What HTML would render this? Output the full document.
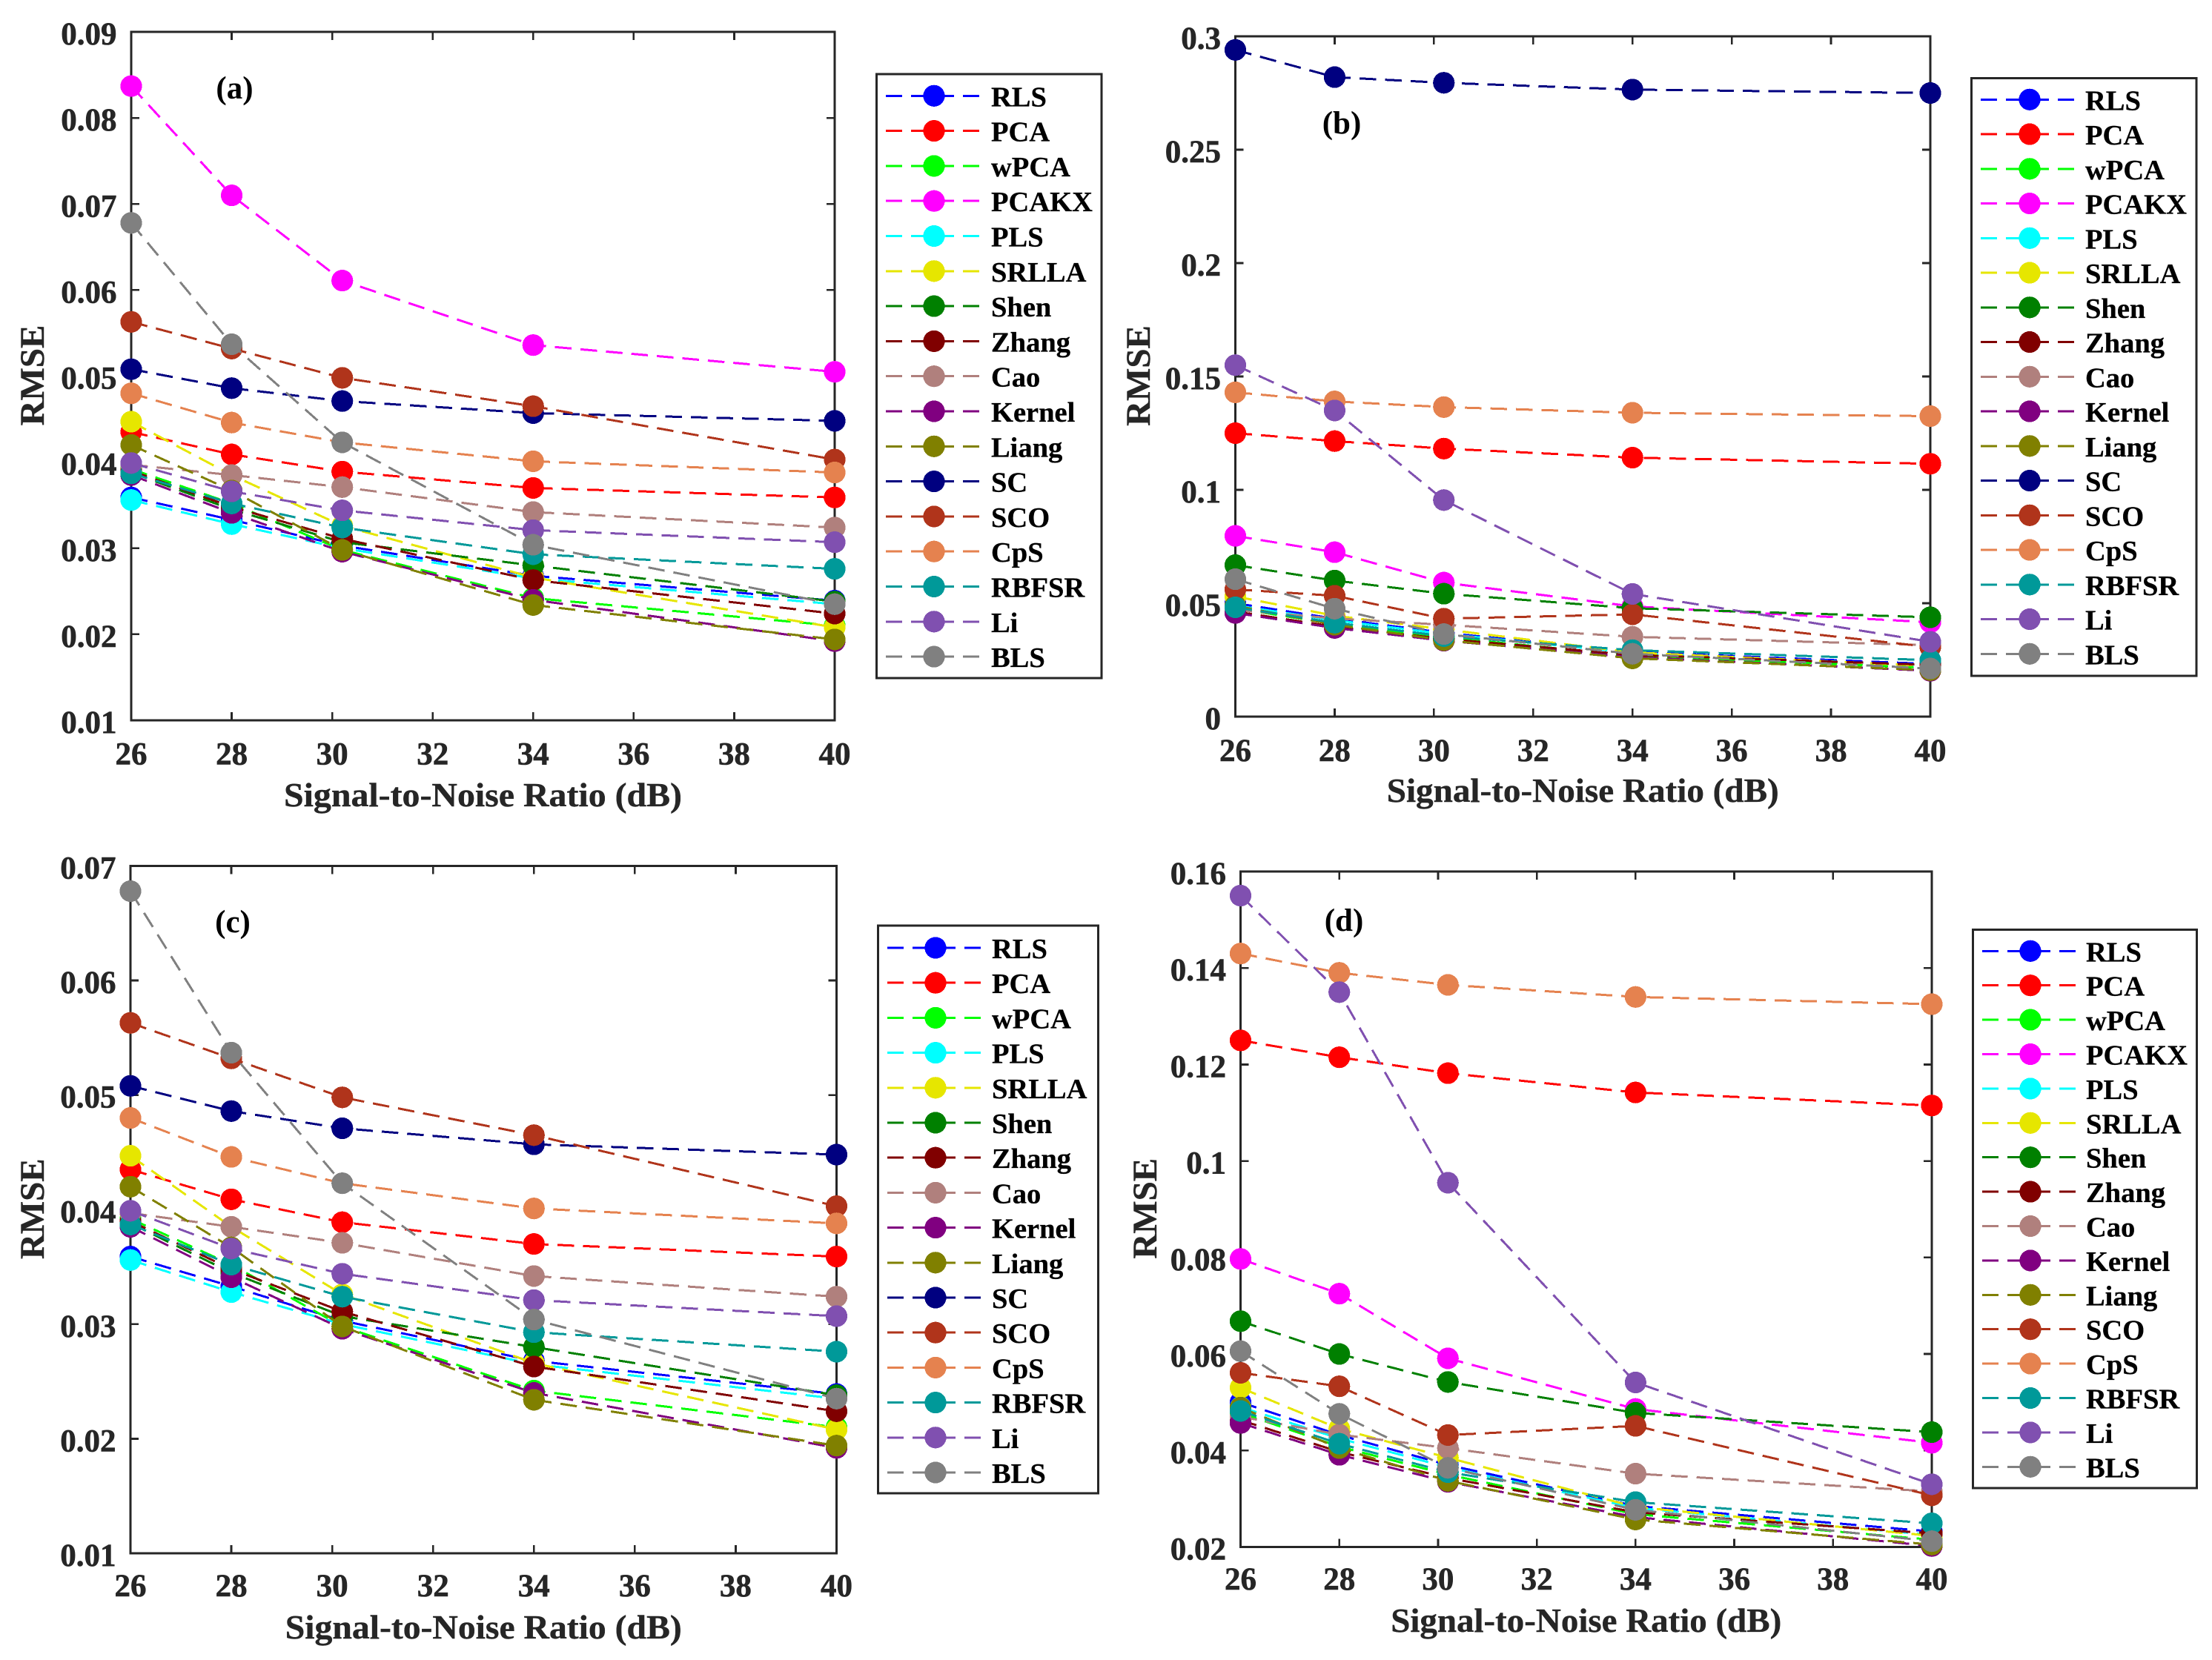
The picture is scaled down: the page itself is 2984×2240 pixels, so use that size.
<!DOCTYPE html>
<html lang="en">
<head>
<meta charset="utf-8">
<title>RMSE versus Signal-to-Noise Ratio</title>
<style>
html,body{margin:0;padding:0;background:#fff;}
body{width:2984px;height:2240px;overflow:hidden;}
svg{display:block;}
text{font-family:"Liberation Serif","DejaVu Serif",serif;font-weight:bold;}
</style>
</head>
<body>
<svg id="figure" xmlns="http://www.w3.org/2000/svg" width="2984" height="2240" viewBox="0 0 2984 2240" shape-rendering="crispEdges"></svg>
<script>
// ---------- shared categories and tick labels ----------
const snrValues = [26, 28, 30.2, 34, 40];
const xTickValues = [26, 28, 30, 32, 34, 36, 38, 40];
const xTickLabels = ["26", "28", "30", "32", "34", "36", "38", "40"];

const yTicksA = [0.01, 0.02, 0.03, 0.04, 0.05, 0.06, 0.07, 0.08, 0.09];
const yLabelsA = ["0.01", "0.02", "0.03", "0.04", "0.05", "0.06", "0.07", "0.08", "0.09"];
const yTicksB = [0, 0.05, 0.1, 0.15, 0.2, 0.25, 0.3];
const yLabelsB = ["0", "0.05", "0.1", "0.15", "0.2", "0.25", "0.3"];
const yTicksC = [0.01, 0.02, 0.03, 0.04, 0.05, 0.06, 0.07];
const yLabelsC = ["0.01", "0.02", "0.03", "0.04", "0.05", "0.06", "0.07"];
const yTicksD = [0.02, 0.04, 0.06, 0.08, 0.1, 0.12, 0.14, 0.16];
const yLabelsD = ["0.02", "0.04", "0.06", "0.08", "0.1", "0.12", "0.14", "0.16"];

// ---------- series values: panels (a) and (c) ----------
const rlsAC    = [0.0359, 0.0333, 0.0303, 0.0268, 0.0239];
const pcaAC    = [0.0435, 0.0409, 0.0389, 0.0370, 0.0359];
const wpcaAC   = [0.0392, 0.0352, 0.0298, 0.0242, 0.0210];
const pcakxAC  = [0.0837, 0.0710, 0.0611, 0.0536, 0.0505];
const plsAC    = [0.0356, 0.0328, 0.0300, 0.0265, 0.0235];
const srllaAC  = [0.0447, 0.0385, 0.0326, 0.0266, 0.0208];
const shenAC   = [0.0388, 0.0345, 0.0307, 0.0280, 0.0238];
const zhangAC  = [0.0390, 0.0348, 0.0311, 0.0263, 0.0224];
const caoAC    = [0.0397, 0.0385, 0.0371, 0.0342, 0.0324];
const kernelAC = [0.0385, 0.0341, 0.0296, 0.0240, 0.0192];
const liangAC  = [0.0420, 0.0367, 0.0298, 0.0234, 0.0194];
const scAC     = [0.0508, 0.0486, 0.0471, 0.0457, 0.0448];
const scoAC    = [0.0563, 0.0532, 0.0498, 0.0465, 0.0403];
const cpsAC    = [0.0480, 0.0446, 0.0423, 0.0401, 0.0388];
const rbfsrAC  = [0.0387, 0.0352, 0.0324, 0.0293, 0.0276];
const liAC     = [0.0399, 0.0366, 0.0344, 0.0321, 0.0307];
const blsAC    = [0.0678, 0.0537, 0.0423, 0.0304, 0.0235];

// ---------- series values: panels (b) and (d) ----------
const rlsBD    = [0.0500, 0.0432, 0.0370, 0.0285, 0.0232];
const pcaBD    = [0.1250, 0.1215, 0.1182, 0.1142, 0.1115];
const wpcaBD   = [0.0478, 0.0408, 0.0350, 0.0268, 0.0215];
const pcakxBD  = [0.0797, 0.0725, 0.0591, 0.0486, 0.0416];
const plsBD    = [0.0490, 0.0425, 0.0365, 0.0281, 0.0225];
const srllaBD  = [0.0530, 0.0445, 0.0385, 0.0283, 0.0223];
const shenBD   = [0.0668, 0.0600, 0.0542, 0.0478, 0.0438];
const zhangBD  = [0.0463, 0.0397, 0.0343, 0.0272, 0.0228];
const caoBD    = [0.0470, 0.0433, 0.0405, 0.0352, 0.0315];
const kernelBD = [0.0457, 0.0391, 0.0335, 0.0262, 0.0202];
const liangBD  = [0.0489, 0.0405, 0.0337, 0.0257, 0.0205];
const scBD     = [0.2940, 0.2820, 0.2795, 0.2765, 0.2750];
const scoBD    = [0.0561, 0.0533, 0.0432, 0.0451, 0.0307];
const cpsBD    = [0.1430, 0.1390, 0.1365, 0.1340, 0.1325];
const rbfsrBD  = [0.0482, 0.0414, 0.0355, 0.0293, 0.0249];
const liBD     = [0.1550, 0.1350, 0.0955, 0.0541, 0.0330];
const blsBD    = [0.0606, 0.0476, 0.0364, 0.0277, 0.0212];

// ---------- series names and colours ----------
const methodNames = ["RLS","PCA","wPCA","PCAKX","PLS","SRLLA","Shen","Zhang","Cao","Kernel","Liang","SC","SCO","CpS","RBFSR","Li","BLS"];
const methodColors = ["#0000ff","#ff0000","#00ff00","#ff00ff","#00ffff","#e6e600","#008000","#800000","#b0807d","#800080","#808000","#000080","#b0341b","#e5824f","#009999","#8050b0","#808080"];
const seriesAC = [rlsAC,pcaAC,wpcaAC,pcakxAC,plsAC,srllaAC,shenAC,zhangAC,caoAC,kernelAC,liangAC,scAC,scoAC,cpsAC,rbfsrAC,liAC,blsAC];
const seriesBD = [rlsBD,pcaBD,wpcaBD,pcakxBD,plsBD,srllaBD,shenBD,zhangBD,caoBD,kernelBD,liangBD,scBD,scoBD,cpsBD,rbfsrBD,liBD,blsBD];

// ---------- layout ----------
const AXIS_COLOR = "#262626";
const NS = "http://www.w3.org/2000/svg";
const figure = document.getElementById("figure");

const panels = [
  { id:"a", left:177, right:1126, top:43, bottom:972, vMin:0.01, vMax:0.09,
    yTicks:yTicksA, yLabels:yLabelsA, series:seriesAC, hide:[],
    letterX:316.5, letterY:133, rmseX:59, titleLen:537, titleDy:116, xLabelDy:59.5,
    legend:{left:1182.5,right:1486,top:100,bottom:915,row0:129.3,step:47.3,lineX:1195,markX:1260,textX:1337} },
  { id:"b", left:1666.5, right:2604, top:49, bottom:967, vMin:0, vMax:0.3,
    yTicks:yTicksB, yLabels:yLabelsB, series:seriesBD, hide:[],
    letterX:1810, letterY:180, rmseX:1551, titleLen:529, titleDy:115, xLabelDy:60,
    legend:{left:2659.5,right:2963,top:105.5,bottom:912,row0:134.3,step:46.75,lineX:2672,markX:2738,textX:2813} },
  { id:"c", left:176, right:1128.5, top:1168.5, bottom:2096, vMin:0.01, vMax:0.07,
    yTicks:yTicksC, yLabels:yLabelsC, series:seriesAC, hide:["PCAKX"],
    letterX:314, letterY:1258, rmseX:59, titleLen:535, titleDy:115, xLabelDy:58,
    legend:{left:1184.5,right:1481.5,top:1249,bottom:2015,row0:1279,step:47.2,lineX:1197,markX:1262,textX:1338} },
  { id:"d", left:1673.5, right:2606, top:1176, bottom:2087.5, vMin:0.02, vMax:0.16,
    yTicks:yTicksD, yLabels:yLabelsD, series:seriesBD, hide:["SC"],
    letterX:1813, letterY:1256, rmseX:1560, titleLen:527, titleDy:114.5, xLabelDy:57.5,
    legend:{left:2661.5,right:2963.5,top:1254.5,bottom:2008,row0:1283.3,step:46.4,lineX:2674,markX:2739,textX:2814} }
];

function make(tag, parent, attrs) {
  const el = document.createElementNS(NS, tag);
  for (const k in attrs) { el.setAttribute(k, attrs[k]); }
  parent.appendChild(el);
  return el;
}
function slug(s) { return s.toLowerCase(); }

function drawPanel(p) {
  const xScale = v => p.left + (v - 26) * (p.right - p.left) / 14;
  const yScale = v => p.bottom - (v - p.vMin) * (p.bottom - p.top) / (p.vMax - p.vMin);

  const group = make("g", figure, {});
  
  

  // axes box
  const box = make("rect", group, {x:p.left, y:p.top, width:p.right-p.left, height:p.bottom-p.top, fill:"#fff", stroke:AXIS_COLOR, "stroke-width":2.7});
  
  

  // x ticks and labels
  xTickValues.forEach((v, i) => {
    const x = xScale(v);
    const t1 = make("line", group, {x1:x, x2:x, y1:p.bottom, y2:p.bottom-11, stroke:AXIS_COLOR, "stroke-width":2.7});
    
    
    const t2 = make("line", group, {x1:x, x2:x, y1:p.top, y2:p.top+11, stroke:AXIS_COLOR, "stroke-width":2.7});
    
    
    const lab = make("text", group, {x:x, y:p.bottom+p.xLabelDy, "text-anchor":"middle", "font-size":43, fill:AXIS_COLOR, stroke:AXIS_COLOR, "stroke-width":0.6});
    lab.textContent = xTickLabels[i];
    
    
  });

  // y ticks and labels
  p.yTicks.forEach((v, i) => {
    const y = yScale(v);
    const t1 = make("line", group, {x1:p.left, x2:p.left+11, y1:y, y2:y, stroke:AXIS_COLOR, "stroke-width":2.7});
    
    
    const t2 = make("line", group, {x1:p.right, x2:p.right-11, y1:y, y2:y, stroke:AXIS_COLOR, "stroke-width":2.7});
    
    
    const lab = make("text", group, {x:p.left-19.5, y:y+17, "text-anchor":"end", "font-size":43, fill:AXIS_COLOR, stroke:AXIS_COLOR, "stroke-width":0.6});
    lab.textContent = p.yLabels[i];
    
    
  });

  // axis titles
  const xTitle = make("text", group, {x:(p.left+p.right)/2, y:p.bottom+p.titleDy, "text-anchor":"middle", "font-size":46, fill:AXIS_COLOR, stroke:AXIS_COLOR, "stroke-width":0.4, textLength:p.titleLen, lengthAdjust:"spacingAndGlyphs"});
  xTitle.textContent = "Signal-to-Noise Ratio (dB)";
  
  

  const yc = (p.top + p.bottom) / 2 - 1;
  const yTitle = make("text", group, {x:p.rmseX, y:yc, "text-anchor":"middle", "font-size":47, fill:AXIS_COLOR, stroke:AXIS_COLOR, "stroke-width":0.4, transform:"rotate(-90 " + p.rmseX + " " + yc + ")"});
  yTitle.textContent = "RMSE";
  
  

  // series
  methodNames.forEach((name, s) => {
    if (p.hide.includes(name)) return;
    const vals = p.series[s];
    const g = make("g", group, {});
    
    
    const pts = snrValues.map((x, i) => xScale(x).toFixed(2) + "," + yScale(vals[i]).toFixed(2)).join(" ");
    const line = make("polyline", g, {points:pts, fill:"none", stroke:methodColors[s], "stroke-width":3, "stroke-dasharray":"22.5 12"});
    
    
    snrValues.forEach((x, i) => {
      const c = make("circle", g, {cx:xScale(x), cy:yScale(vals[i]), r:14.6, fill:methodColors[s]});
      
      
    });
  });

  // panel letter
  const letter = make("text", group, {x:p.letterX, y:p.letterY, "text-anchor":"middle", "font-size":43, fill:"#000"});
  letter.textContent = "(" + p.id + ")";
  
  

  // legend
  const L = p.legend;
  const lg = make("g", group, {});
  
  
  const lbox = make("rect", lg, {x:L.left, y:L.top, width:L.right-L.left, height:L.bottom-L.top, fill:"#fff", stroke:AXIS_COLOR, "stroke-width":2.7});
  
  
  let row = 0;
  methodNames.forEach((name, s) => {
    if (p.hide.includes(name)) return;
    const y = L.row0 + row * L.step;
    row++;
    const e = make("g", lg, {});
    
    
    const ll = make("line", e, {x1:L.lineX, x2:L.lineX+126, y1:y, y2:y, stroke:methodColors[s], "stroke-width":3, "stroke-dasharray":"22 12 58 12 22"});
    
    
    const lc = make("circle", e, {cx:L.markX, cy:y, r:14.6, fill:methodColors[s]});
    
    
    const lt = make("text", e, {x:L.textX, y:y+14, "font-size":38.5, fill:"#000", stroke:"#000", "stroke-width":0.3});
    lt.textContent = name;
    
    
  });
}
panels.forEach(drawPanel);
</script>
</body>
</html>
